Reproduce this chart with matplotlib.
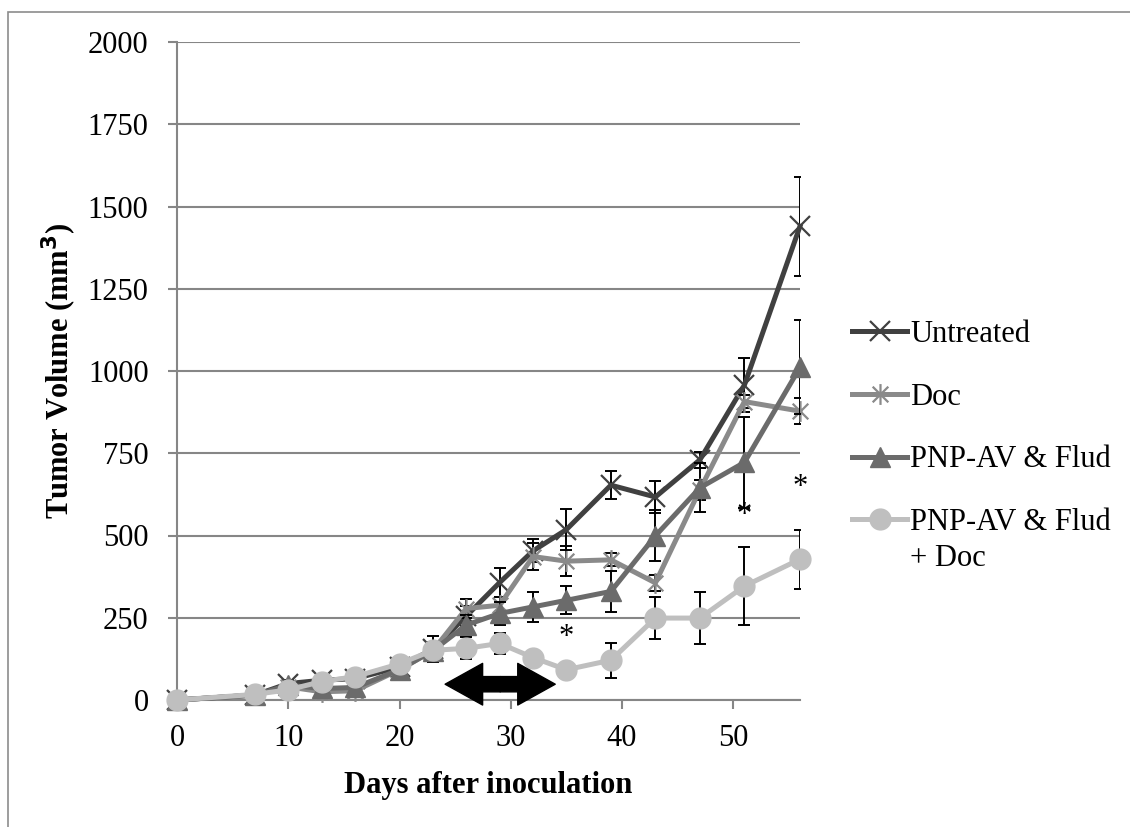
import numpy as np
import matplotlib.pyplot as plt
from matplotlib.path import Path
from matplotlib.patches import Rectangle

plt.rcParams['font.family'] = ['Liberation Serif', 'DejaVu Serif']

# days after inoculation
days = [0, 7, 10, 13, 16, 20, 23, 26, 29, 32, 35, 39, 43, 47, 51, 56]

untreated = [0, 15, 50, 60, 65, 100, 155, 255, 357, 453, 518, 653, 617, 730, 957, 1440]
untreated_err = [0, 5, 10, 12, 10, 15, 40, 30, 45, 35, 62, 42, 48, 25, 83, 150]

doc = [0, 15, 40, 25, 28, 92, 150, 278, 288, 436, 422, 426, 356, 639, 907, 878]
doc_err = [0, 5, 8, 8, 8, 12, 25, 30, 25, 40, 45, 20, 25, 30, 20, 40]

pnp = [0, 15, 45, 35, 38, 92, 150, 228, 263, 283, 303, 330, 499, 645, 722, 1011]
pnp_err = [0, 5, 8, 8, 8, 12, 25, 30, 35, 45, 42, 63, 78, 75, 137, 143]

pnp_doc = [0, 17, 31, 56, 71, 110, 151, 157, 172, 129, 92, 121, 249, 249, 346, 428]
pnp_doc_err = [0, 5, 8, 10, 10, 12, 20, 33, 31, 10, 10, 53, 65, 80, 118, 90]

# last label wraps in the original; second line added below the legend entry
labels = ['Untreated', 'Doc', 'PNP-AV & Flud', 'PNP-AV & Flud']
label_tail = '+ Doc'

# significance marks (day, volume)
star_days = [35, 51, 56]
star_vals = [190, 560, 645]

# treatment window shown by the arrow
treat_start, treat_end, treat_level = 24.1, 34.0, 48

# excel style asterisk marker: x plus a vertical bar
ast = Path([(0, -1), (0, 1), (-0.75, -0.75), (0.75, 0.75), (-0.75, 0.75), (0.75, -0.75)],
           [Path.MOVETO, Path.LINETO] * 3)

fig = plt.figure(figsize=(11.3, 8.27), dpi=100)
ax = fig.add_axes([177 / 1130, 1 - 700 / 827, 623 / 1130, 658 / 827])

series = [
    (untreated, untreated_err, '#404040', 'x', 14, 1.6),
    (doc, doc_err, '#8a8a8a', ast, 15, 1.6),
    (pnp, pnp_err, '#6b6b6b', '^', 14, 1),
    (pnp_doc, pnp_doc_err, '#bfbfbf', 'o', 15, 1),
]

handles = []
for i, (vals, err, col, mk, ms, mew) in enumerate(series):
    ax.errorbar(days, vals, yerr=err, fmt='none', ecolor='black',
                elinewidth=1.4, capsize=4, capthick=1.4, zorder=3 + i * 2)
    h, = ax.plot(days, vals, color=col, lw=3.6, marker=mk, ms=ms,
                 mec=col, mfc=col, mew=mew, zorder=4 + i * 2, clip_on=False)
    handles.append(h)

for d, v in zip(star_days, star_vals):
    ax.text(d, v, '*', fontsize=22, ha='center', va='center', zorder=20)

mid = (treat_start + treat_end) / 2
for end in (treat_start, treat_end):
    ax.annotate('', xy=(end, treat_level), xytext=(mid, treat_level),
                arrowprops=dict(arrowstyle='simple,head_length=2.7,head_width=3.0,tail_width=1.1',
                                color='black', shrinkA=0, shrinkB=0, mutation_scale=10),
                zorder=15)

ax.set_xlim(0, 56)
ax.set_ylim(0, 2000)
ax.set_xticks(range(0, 60, 10))
ax.set_yticks(range(0, 2001, 250))

grid_col = '#868686'
ax.grid(axis='y', color=grid_col, lw=1.5)
ax.set_axisbelow(True)
for s in ['top', 'right']:
    ax.spines[s].set_visible(False)
for s in ['left', 'bottom']:
    ax.spines[s].set_color(grid_col)
    ax.spines[s].set_linewidth(1.5)
ax.tick_params(axis='both', colors=grid_col, labelcolor='black', labelsize=22,
               length=6.5, width=1.5)
ax.tick_params(axis='y', pad=14)
ax.tick_params(axis='x', pad=11)

ax.set_xlabel('Days after inoculation', fontsize=22, fontweight='bold')
ax.set_ylabel('Tumor Volume (mm$^\\mathbf{3}$)', fontsize=22, fontweight='bold')
ax.xaxis.set_label_coords(0.5, -0.108)
ax.yaxis.set_label_coords(-0.157, 0.5)

leg = ax.legend(handles, labels, loc='upper left', bbox_to_anchor=(852 / 1130, 1 - 320 / 827),
                bbox_transform=fig.transFigure, frameon=False, fontsize=22,
                handlelength=1.8, handletextpad=0.1, labelspacing=1.1,
                borderpad=0, borderaxespad=0, numpoints=1)

# place the wrapped second line under the last legend label
fig.canvas.draw()
bb = leg.get_texts()[-1].get_window_extent()
fig.text(bb.x0, bb.y0 - 7, label_tail, transform=None, ha='left', va='top', fontsize=22)

# outer frame of the chart area
fig.patches.append(Rectangle((8 / 1130, -0.1), 1.2, 1.1 - 12 / 827, fill=False,
                             ec='#8c8c8c', lw=1.2, transform=fig.transFigure))

fig.savefig('out.png', dpi=100)
